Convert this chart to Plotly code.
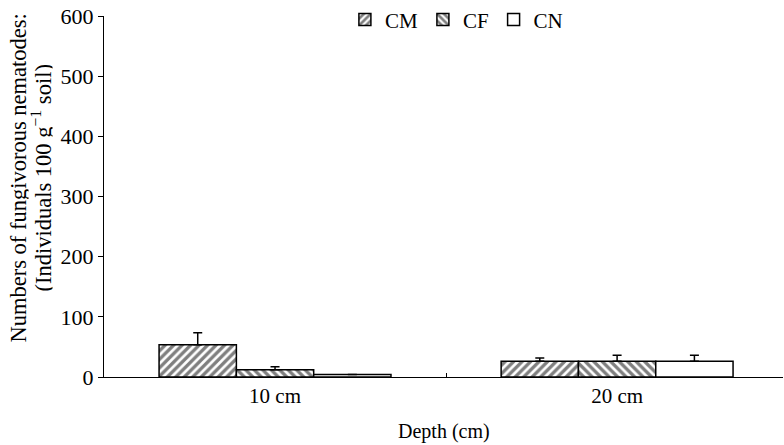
import plotly.graph_objects as go

depths = ["10 cm", "20 cm"]
series_names = ["CM", "CF", "CN"]
cm_vals = [53.5, 26]
cf_vals = [12, 26]
cn_vals = [4, 26]
cm_err = [20, 5.5]
cf_err = [5, 10]
cn_err = [None, 10]
patterns = ["/", "\\", ""]

FONT = "Liberation Serif, Times New Roman, serif"

fig = go.Figure()
for name, vals, errs, pat in zip(series_names, [cm_vals, cf_vals, cn_vals],
                                 [cm_err, cf_err, cn_err], patterns):
    fig.add_trace(go.Bar(
        name=name, x=depths, y=vals,
        marker=dict(color="white", line=dict(color="black", width=1.5),
                    pattern=dict(shape=pat, fgcolor="black", bgcolor="white",
                                 size=6, solidity=0.55)),
        error_y=dict(type="data", array=errs, arrayminus=[0, 0], symmetric=False,
                     color="black", thickness=1.5, width=4.5),
    ))

fig.update_layout(
    width=784, height=445,
    margin=dict(l=104, r=1, t=16, b=68, autoexpand=False),
    paper_bgcolor="white", plot_bgcolor="white",
    font=dict(family=FONT, size=21, color="black"),
    barmode="group", bargap=0.322, bargroupgap=0,
    showlegend=True,
    legend=dict(orientation="h", x=0.519, xanchor="center", y=0.989, yanchor="middle",
                font=dict(size=21), bgcolor="rgba(0,0,0,0)",
                itemwidth=30, tracegroupgap=0),
    xaxis=dict(
        type="category", range=[-0.5, 1.485], automargin=False,
        showline=True, linecolor="black", linewidth=1,
        ticks="inside", tickson="boundaries", ticklen=4, tickcolor="black",
        showgrid=False, zeroline=False,
        tickfont=dict(size=21), ticklabeloverflow="allow",
    ),
    yaxis=dict(
        range=[0, 600], dtick=100, automargin=False,
        showline=True, linecolor="black", linewidth=1,
        ticks="outside", ticklen=5, tickcolor="black",
        showgrid=False, zeroline=False,
        tickfont=dict(size=22), ticklabeloverflow="allow",
    ),
    annotations=[
        dict(text="Numbers of fungivorous nematodes:", textangle=-90,
             xref="paper", yref="paper", x=0, y=0.5, xanchor="center", yanchor="middle",
             xshift=-86, yshift=18, height=20, showarrow=False, font=dict(size=22.5)),
        dict(text="(Individuals 100 g<sup>−1</sup> soil)", textangle=-90,
             xref="paper", yref="paper", x=0, y=0.5, xanchor="center", yanchor="middle",
             xshift=-63, yshift=18, height=22, showarrow=False, font=dict(size=22.5)),
        dict(text="Depth (cm)", xref="paper", yref="paper", x=0.5, y=0,
             xanchor="center", yanchor="middle", yshift=-54, showarrow=False,
             font=dict(size=20)),
    ],
)

# remove the default 8px page margin so the figure fills the window exactly
fig.write_html("out.html", config={"displayModeBar": False},
               post_script="document.body.style.margin='0';document.body.style.overflow='hidden';")
